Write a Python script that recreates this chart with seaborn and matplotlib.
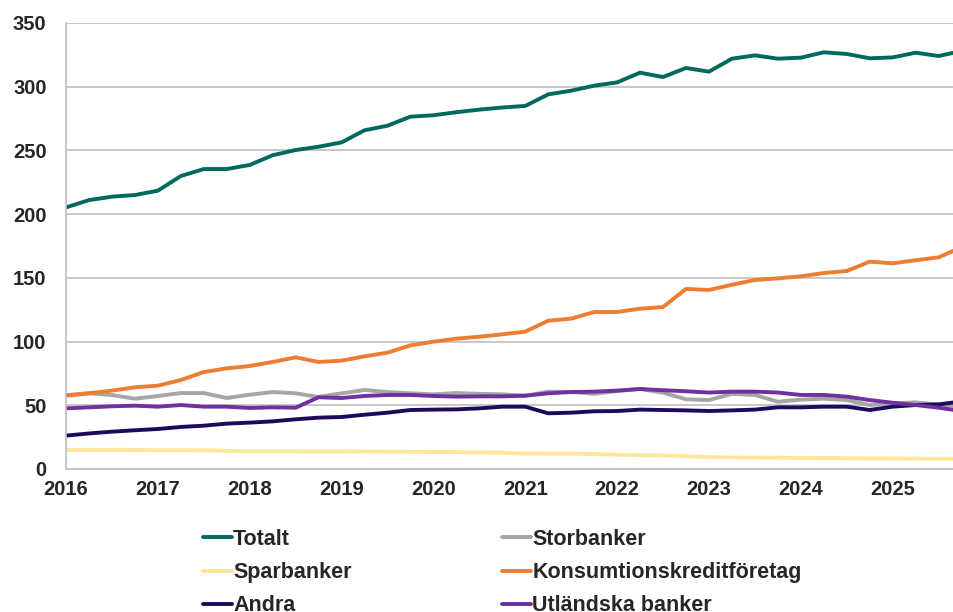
import numpy as np
import pandas as pd
import matplotlib.pyplot as plt
import seaborn as sns

# Kvartal 2016Q1 - 2025Q4
kvartal = pd.period_range("2016Q1", "2025Q4", freq="Q")

totalt = [205.3, 211.0, 213.7, 215.0, 218.4, 229.9, 235.4, 235.4, 238.6, 246.2,
          250.3, 252.9, 256.3, 265.8, 269.4, 276.5, 277.6, 280.0, 282.0, 283.7,
          284.9, 294.0, 296.9, 300.8, 303.4, 311.0, 307.6, 314.7, 311.8, 322.0,
          324.6, 322.0, 322.8, 327.0, 325.7, 322.3, 323.0, 326.7, 324.1, 328.0]
storbanker = [58.0, 59.5, 58.0, 55.2, 57.3, 59.6, 59.6, 55.7, 58.3, 60.4,
              59.4, 56.5, 59.4, 62.0, 60.4, 59.4, 58.6, 59.6, 59.0, 58.6,
              57.5, 60.7, 60.4, 59.0, 61.2, 62.8, 59.9, 54.7, 54.1, 59.0,
              58.1, 52.8, 54.4, 55.2, 54.1, 50.2, 51.5, 52.3, 50.5, 49.0]
sparbanker = [14.9, 15.0, 15.0, 14.9, 14.8, 14.8, 14.7, 14.2, 13.9, 13.9,
              13.9, 13.8, 13.8, 13.7, 13.7, 13.5, 13.4, 13.2, 13.1, 12.8,
              12.1, 12.0, 12.0, 11.8, 11.2, 10.9, 10.6, 10.1, 9.3, 9.1,
              9.0, 8.9, 8.7, 8.6, 8.5, 8.3, 8.2, 8.1, 8.0, 8.0]
konsumtion = [57.5, 59.4, 61.5, 64.1, 65.4, 69.8, 76.1, 79.0, 80.8, 84.0,
              87.6, 84.0, 85.0, 88.4, 91.3, 97.0, 99.9, 102.3, 103.8, 105.7,
              107.8, 116.4, 118.0, 123.2, 123.2, 125.8, 127.1, 141.3, 140.5, 144.6,
              148.3, 149.6, 151.2, 153.8, 155.4, 162.7, 161.4, 163.8, 166.1, 174.0]
andra = [26.2, 27.9, 29.3, 30.4, 31.4, 33.0, 34.0, 35.6, 36.4, 37.4,
         39.0, 40.3, 40.8, 42.6, 44.2, 46.3, 46.6, 46.8, 47.6, 48.9,
         48.9, 43.7, 44.2, 45.3, 45.5, 46.6, 46.3, 46.0, 45.5, 46.0,
         46.6, 48.4, 48.4, 48.9, 48.9, 46.3, 48.9, 50.2, 50.7, 53.0]
utlandska = [47.6, 48.4, 49.2, 49.7, 48.9, 50.2, 48.9, 48.9, 47.9, 48.4,
             48.1, 56.3, 55.7, 57.3, 58.1, 58.1, 57.3, 56.8, 57.0, 57.0,
             57.5, 59.4, 60.4, 60.7, 61.5, 62.8, 61.8, 61.0, 60.0, 60.7,
             60.7, 60.0, 58.1, 58.1, 56.8, 54.1, 52.0, 50.2, 48.1, 45.5]

serier = {
    "Totalt": totalt,
    "Storbanker": storbanker,
    "Sparbanker": sparbanker,
    "Konsumtionskreditföretag": konsumtion,
    "Andra": andra,
    "Utländska banker": utlandska,
}
farger = {
    "Totalt": "#00695F",
    "Storbanker": "#A6A6A6",
    "Sparbanker": "#FFE699",
    "Konsumtionskreditföretag": "#ED7D31",
    "Andra": "#1E0A5C",
    "Utländska banker": "#7030A0",
}

x = [p.year + (p.quarter - 1) / 4 for p in kvartal]
df = pd.DataFrame({"x": x, **serier}).melt("x", var_name="serie", value_name="varde")

sns.set_style("white")
plt.rcParams["font.family"] = ["Liberation Sans", "DejaVu Sans"]
plt.rcParams["font.weight"] = "bold"

fig = plt.figure(figsize=(9.54, 6.12), dpi=100)
ax = fig.add_axes([66 / 954, 143 / 612, 1 - 66 / 954, 446 / 612])

sns.lineplot(data=df, x="x", y="varde", hue="serie", hue_order=list(serier),
             palette=farger, linewidth=2.8, ax=ax, legend=False)

ax.set_xlim(2016, 2025.668)
ax.set_ylim(0, 350)
ax.set_yticks(range(0, 351, 50))
ax.set_xticks(range(2016, 2026))
ax.set_xlabel("")
ax.set_ylabel("")
ax.grid(axis="y", color="#BFBFBF", linewidth=1.2)
ax.set_axisbelow(True)
for s in ["top", "right"]:
    ax.spines[s].set_visible(False)
for s in ["left", "bottom"]:
    ax.spines[s].set_color("#BFBFBF")
    ax.spines[s].set_linewidth(1.2)
ax.tick_params(axis="x", direction="out", length=6, width=1.2, color="#BFBFBF",
               labelsize=14.5, pad=2)
ax.tick_params(axis="y", length=0, labelsize=14.5, pad=14)
for lab in ax.get_xticklabels() + ax.get_yticklabels():
    lab.set_fontweight("bold")

# legend i två kolumner, radvis ordning
ordning = ["Totalt", "Sparbanker", "Andra",
           "Storbanker", "Konsumtionskreditföretag", "Utländska banker"]
handles = [plt.Line2D([], [], color=farger[n], linewidth=2.8) for n in ordning]
fig.legend(handles, ordning, ncol=2, loc="upper left",
           bbox_to_anchor=(203 / 954, 1 - 529 / 612), frameon=False,
           prop={"size": 15.5, "weight": "bold"}, handlelength=1.35,
           handletextpad=0.05, labelspacing=0.56, columnspacing=7.0,
           borderpad=0, borderaxespad=0)

plt.savefig("out.png", dpi=100)
